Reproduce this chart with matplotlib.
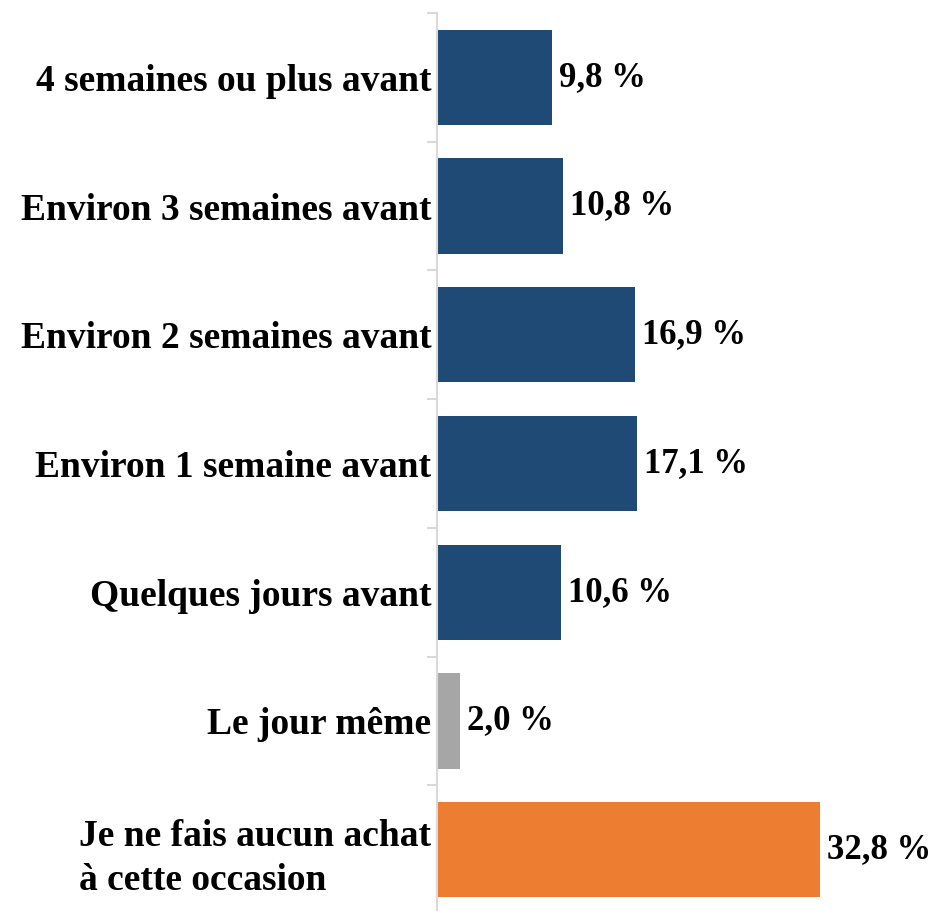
import numpy as np
import matplotlib
matplotlib.use('Agg')
from matplotlib import pyplot as plt

categories = ['4 semaines ou plus avant', 'Environ 3 semaines avant', 'Environ 2 semaines avant',
              'Environ 1 semaine avant', 'Quelques jours avant', 'Le jour même',
              'Je ne fais aucun achat\nà cette occasion']
values = [9.8, 10.8, 16.9, 17.1, 10.6, 2.0, 32.8]
value_labels = ['9,8 %', '10,8 %', '16,9 %', '17,1 %', '10,6 %', '2,0 %', '32,8 %']
bar_colors = ['#1F4A75', '#1F4A75', '#1F4A75', '#1F4A75', '#1F4A75', '#A6A6A6', '#ED7D31']

plt.rcParams['font.family'] = ['Liberation Serif', 'DejaVu Serif']
plt.rcParams['font.weight'] = 'bold'

W, H = 936, 911
fig = plt.figure(figsize=(W / 100, H / 100), dpi=100)
# axis area: top at y=13 px, 7 rows of ~128.7 px
ax = fig.add_axes([437 / W, -3 / H, 491 / W, 901 / H])

y = np.arange(len(categories))
ax.barh(y, values, height=0.74, color=bar_colors)
ax.set_ylim(len(categories) - 0.5, -0.5)
ax.set_xlim(0, 42)

for yi, v, lab in zip(y, values, value_labels):
    ax.text(v + 0.6, yi, lab, va='center', ha='left', fontsize=25, fontweight='bold')

ax.set_yticks(y)
ax.set_yticklabels(categories, fontsize=27, fontweight='bold', multialignment='left',
                   linespacing=1.35)
ax.tick_params(axis='y', which='major', length=0, pad=4)
ax.set_yticks(np.arange(-0.5, len(categories), 1), minor=True)
ax.tick_params(axis='y', which='minor', length=7, color='#D9D9D9', width=1.5)
ax.set_xticks([])

for s in ['top', 'right', 'bottom']:
    ax.spines[s].set_visible(False)
ax.spines['left'].set_color('#D9D9D9')
ax.spines['left'].set_linewidth(1.5)

fig.savefig('out.png', dpi=100)
